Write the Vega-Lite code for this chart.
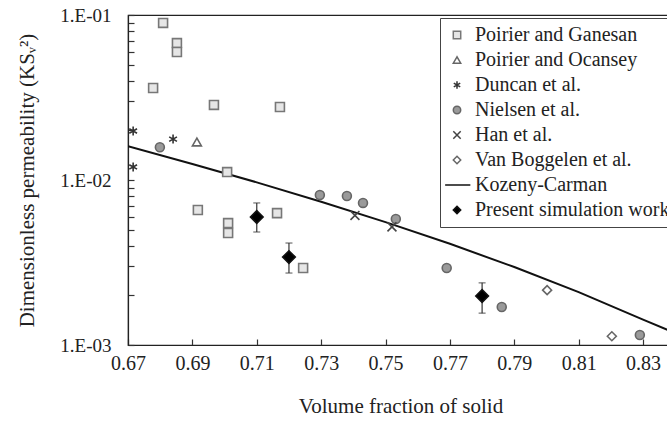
{
  "$schema": "https://vega.github.io/schema/vega-lite/v6.json",
  "autosize": "none",
  "width": 545,
  "height": 330,
  "padding": {"left": 128, "top": 15, "right": 0, "bottom": 78},
  "background": "white",
  "config": {
    "view": {"stroke": "#222", "strokeWidth": 1.2},
    "font": "Liberation Serif",
    "axis": {"titleColor": "#222", "titleFontWeight": "normal", "grid": false, "domainColor": "#222", "zindex": 1}
  },
  "datasets": {
    "pts": [
      {"source": "Poirier  and Ganesan", "x": 0.6809, "y": 0.0895},
      {"source": "Poirier  and Ganesan", "x": 0.6852, "y": 0.0676},
      {"source": "Poirier  and Ganesan", "x": 0.6852, "y": 0.0597},
      {"source": "Poirier  and Ganesan", "x": 0.6778, "y": 0.0361},
      {"source": "Poirier  and Ganesan", "x": 0.6967, "y": 0.0285},
      {"source": "Poirier  and Ganesan", "x": 0.7172, "y": 0.0277},
      {"source": "Poirier  and Ganesan", "x": 0.7008, "y": 0.01117},
      {"source": "Poirier  and Ganesan", "x": 0.6917, "y": 0.00658},
      {"source": "Poirier  and Ganesan", "x": 0.7011, "y": 0.00548},
      {"source": "Poirier  and Ganesan", "x": 0.7011, "y": 0.00477},
      {"source": "Poirier  and Ganesan", "x": 0.7163, "y": 0.0063},
      {"source": "Poirier  and Ganesan", "x": 0.7244, "y": 0.00293},
      {"source": "Poirier  and Ocansey", "x": 0.6914, "y": 0.0170},
      {"source": "Duncan et al.", "x": 0.6716, "y": 0.0198},
      {"source": "Duncan et al.", "x": 0.6716, "y": 0.0120},
      {"source": "Duncan et al.", "x": 0.684, "y": 0.0177},
      {"source": "Nielsen  et al.", "x": 0.6799, "y": 0.0158},
      {"source": "Nielsen  et al.", "x": 0.7296, "y": 0.00811},
      {"source": "Nielsen  et al.", "x": 0.738, "y": 0.0080},
      {"source": "Nielsen  et al.", "x": 0.743, "y": 0.00726},
      {"source": "Nielsen  et al.", "x": 0.7532, "y": 0.0058},
      {"source": "Nielsen  et al.", "x": 0.769, "y": 0.00293},
      {"source": "Nielsen  et al.", "x": 0.7861, "y": 0.0017},
      {"source": "Nielsen  et al.", "x": 0.829, "y": 0.00115},
      {"source": "Han et al.", "x": 0.7405, "y": 0.0061},
      {"source": "Han et al.", "x": 0.752, "y": 0.0052},
      {"source": "Van Boggelen et al.", "x": 0.8002, "y": 0.00215},
      {"source": "Van Boggelen et al.", "x": 0.8203, "y": 0.00113},
      {"source": "Present simulation work", "x": 0.71, "y": 0.00597, "lo": 0.00484, "hi": 0.00726},
      {"source": "Present simulation work", "x": 0.72, "y": 0.00341, "lo": 0.00273, "hi": 0.00415},
      {"source": "Present simulation work", "x": 0.78, "y": 0.00198, "lo": 0.00156, "hi": 0.00238}
    ],
    "kc": [
      {"source": "Kozeny-Carman", "x": 0.67, "y": 0.01601},
      {"source": "Kozeny-Carman", "x": 0.69, "y": 0.012515},
      {"source": "Kozeny-Carman", "x": 0.71, "y": 0.009676},
      {"source": "Kozeny-Carman", "x": 0.73, "y": 0.007387},
      {"source": "Kozeny-Carman", "x": 0.75, "y": 0.005556},
      {"source": "Kozeny-Carman", "x": 0.77, "y": 0.004104},
      {"source": "Kozeny-Carman", "x": 0.79, "y": 0.002968},
      {"source": "Kozeny-Carman", "x": 0.81, "y": 0.002091},
      {"source": "Kozeny-Carman", "x": 0.83, "y": 0.001426},
      {"source": "Kozeny-Carman", "x": 0.8393, "y": 0.001195}
    ]
  },
  "encoding": {
    "x": {"field": "x", "type": "quantitative",
      "scale": {"domain": [0.67, 0.8393], "nice": false, "zero": false},
      "axis": {"values": [0.67, 0.69, 0.71, 0.73, 0.75, 0.77, 0.79, 0.81, 0.83], "format": ".2f", "ticks": true, "tickSize": -6, "tickWidth": 1.2, "tickColor": "#333", "labelFlush": false, "labelOverlap": false, "labelFont": "Liberation Serif", "labelColor": "#222", "labelFontSize": 20, "labelPadding": 14, "title": "Volume fraction of solid", "titleFont": "Liberation Serif", "titleFontSize": 21, "titlePadding": 22, "domainWidth": 1.2}},
    "y": {"field": "y", "type": "quantitative",
      "scale": {"type": "log", "domain": [0.001, 0.1], "nice": false},
      "axis": {"values": [0.001, 0.002, 0.003, 0.004, 0.005, 0.006, 0.007, 0.008, 0.009, 0.01, 0.02, 0.03, 0.04, 0.05, 0.06, 0.07, 0.08, 0.09, 0.1],
        "labelExpr": "datum.value == 0.1 ? '1.E-01' : datum.value == 0.01 ? '1.E-02' : datum.value == 0.001 ? '1.E-03' : ''",
        "ticks": true, "tickSize": -6, "tickWidth": 1.2, "tickColor": "#333", "labelFlush": false, "labelOverlap": false, "labelFont": "Liberation Serif", "labelColor": "#222", "labelFontSize": 19, "labelPadding": 23, "title": "Dimensionless permeability (KSᵥ²)", "titleFont": "Liberation Serif", "titleFontSize": 21, "titlePadding": 22, "domainWidth": 1.2}}
  },
  "layer": [
    {
      "data": {"name": "kc"},
      "mark": {"type": "line", "strokeWidth": 2, "clip": true},
      "encoding": {
        "stroke": {"field": "source", "type": "nominal"}
      }
    },
    {
      "data": {"name": "pts"},
      "transform": [{"filter": "datum.lo != null"}],
      "mark": {"type": "rule", "color": "#333", "strokeWidth": 1.2},
      "encoding": {"y": {"field": "lo", "type": "quantitative"}, "y2": {"field": "hi"}}
    },
    {
      "data": {"name": "pts"},
      "transform": [{"filter": "datum.lo != null"}],
      "mark": {"type": "tick", "color": "#333", "size": 7, "thickness": 1.2, "orient": "horizontal"},
      "encoding": {"y": {"field": "lo", "type": "quantitative"}}
    },
    {
      "data": {"name": "pts"},
      "transform": [{"filter": "datum.lo != null"}],
      "mark": {"type": "tick", "color": "#333", "size": 7, "thickness": 1.2, "orient": "horizontal"},
      "encoding": {"y": {"field": "hi", "type": "quantitative"}}
    },
    {
      "data": {"name": "pts"},
      "mark": {"type": "point", "filled": false, "opacity": 1, "strokeWidth": 1.6},
      "encoding": {
        "shape": {"field": "source", "type": "nominal",
          "scale": {"domain": ["Poirier  and Ganesan", "Poirier  and Ocansey", "Duncan et al.", "Nielsen  et al.", "Han et al.", "Van Boggelen et al.", "Kozeny-Carman", "Present simulation work"],
            "range": ["square", "triangle-up", "M0,-1L0,1M-0.87,-0.5L0.87,0.5M-0.87,0.5L0.87,-0.5", "circle", "M-1,-1L1,1M-1,1L1,-1", "diamond", "M-3.2,0L3.6,0", "diamond"]},
          "legend": {"title": null, "orient": "none", "legendX": 312, "legendY": 3, "labelFont": "Liberation Serif", "labelFontSize": 20, "labelColor": "#222", "rowPadding": 5, "symbolSize": 55, "symbolStrokeWidth": 1.5, "strokeColor": "#444", "fillColor": "white", "padding": 7, "labelOffset": 8, "labelLimit": 400}},
        "fill": {"field": "source", "type": "nominal",
          "scale": {"domain": ["Poirier  and Ganesan", "Poirier  and Ocansey", "Duncan et al.", "Nielsen  et al.", "Han et al.", "Van Boggelen et al.", "Kozeny-Carman", "Present simulation work"],
            "range": ["#e6e6e6", "white", "transparent", "#9a9a9a", "transparent", "white", "black", "black"]}},
        "stroke": {"field": "source", "type": "nominal",
          "scale": {"domain": ["Poirier  and Ganesan", "Poirier  and Ocansey", "Duncan et al.", "Nielsen  et al.", "Han et al.", "Van Boggelen et al.", "Kozeny-Carman", "Present simulation work"],
            "range": ["#777777", "#666666", "#333333", "#666666", "#444444", "#666666", "#111111", "#111111"]}},
        "size": {"condition": {"test": "datum.source == 'Present simulation work'", "value": 160}, "value": 80}
      }
    }
  ]
}
